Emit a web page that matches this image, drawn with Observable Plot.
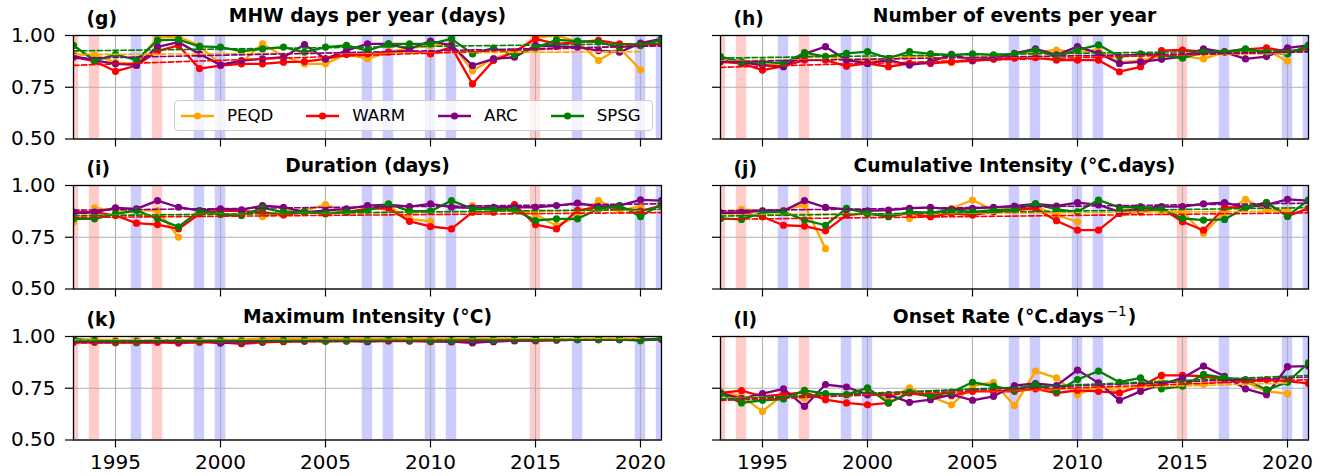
<!DOCTYPE html>
<html>
<head>
<meta charset="utf-8">
<script src="https://cdn.jsdelivr.net/npm/d3@7"></script>
<script src="https://cdn.jsdelivr.net/npm/@observablehq/plot@0.6"></script>
<style>
  body { margin: 0; background: #fff; font-family: "DejaVu Sans", sans-serif; }
  #fig { position: relative; width: 1328px; height: 476px; overflow: hidden; background: #fff; }
  .panel { position: absolute; }
  .legend {
    position: absolute; box-sizing: border-box; display: flex; align-items: center;
    background: rgba(255,255,255,0.8); border: 1px solid #cccccc; border-radius: 4px;
    font-family: "DejaVu Sans", sans-serif; font-size: 16.6px; color: #000; padding-left: 6px;
  }
  .legend .item { display: flex; align-items: center; margin-right: 33px; }
  .legend .item:last-child { margin-right: 0; }
  .legend svg { margin-right: 13px; display: block; }
</style>
</head>
<body>
<div id="fig"></div>
<script>
// ---------- data ----------
const years = [1993,1994,1995,1996,1997,1998,1999,2000,2001,2002,2003,2004,2005,2006,2007,
               2008,2009,2010,2011,2012,2013,2014,2015,2016,2017,2018,2019,2020,2021];
const regions = ["PEQD", "WARM", "ARC", "SPSG"];
const regionColors = ["#FFA500", "#FF0000", "#800080", "#008000"];
const ninoYears = [1993, 1994, 1997, 2015];
const ninaYears = [1996, 1999, 2000, 2007, 2008, 2010, 2011, 2017, 2020, 2021];
const xTickValues = [1995, 2000, 2005, 2010, 2015, 2020];
const yTickValues = [0.5, 0.75, 1.0];

// (g) MHW days per year
const daysPEQD = [0.91,0.905,0.87,0.86,0.99,0.995,0.95,0.86,0.87,0.96,0.90,0.863,0.863,0.91,0.887,0.92,0.94,0.95,0.96,0.83,0.89,0.92,0.99,1.0,0.97,0.879,0.94,0.834];
const daysWARM = [0.895,0.876,0.827,0.855,0.925,0.952,0.84,0.855,0.863,0.863,0.871,0.874,0.887,0.908,0.911,0.92,0.927,0.911,0.944,0.766,0.879,0.92,0.984,0.96,0.968,0.976,0.96,0.955,0.96];
const daysARC  = [0.90,0.88,0.863,0.858,0.945,0.968,0.911,0.858,0.879,0.887,0.895,0.956,0.887,0.927,0.96,0.96,0.935,0.973,0.952,0.855,0.887,0.895,0.952,0.947,0.944,0.927,0.919,0.963,0.984];
const daysSPSG = [0.952,0.879,0.908,0.882,0.976,0.98,0.947,0.944,0.924,0.935,0.944,0.919,0.944,0.952,0.927,0.96,0.96,0.96,0.984,0.911,0.939,0.906,0.94,0.979,0.973,0.968,0.944,0.952,0.979];

// (h) Number of events per year
const eventsPEQD = [0.88,0.875,0.86,0.855,0.90,0.90,0.88,0.88,0.88,0.90,0.90,0.87,0.89,0.90,0.91,0.92,0.93,0.92,0.93,0.87,0.88,0.90,0.90,0.887,0.92,0.92,0.93,0.876];
const eventsWARM = [0.873,0.865,0.833,0.852,0.881,0.881,0.852,0.865,0.849,0.865,0.865,0.873,0.877,0.885,0.89,0.893,0.881,0.881,0.881,0.825,0.849,0.927,0.93,0.922,0.922,0.933,0.94,0.922,0.936];
const eventsARC  = [0.88,0.87,0.857,0.849,0.911,0.946,0.881,0.865,0.881,0.857,0.873,0.909,0.881,0.89,0.914,0.935,0.906,0.946,0.914,0.865,0.873,0.885,0.898,0.936,0.92,0.887,0.898,0.94,0.952];
const eventsSPSG = [0.898,0.873,0.873,0.865,0.917,0.898,0.914,0.922,0.89,0.922,0.911,0.906,0.911,0.906,0.911,0.93,0.898,0.93,0.955,0.898,0.911,0.906,0.89,0.92,0.92,0.936,0.919,0.911,0.952];

// (i) Duration
const durPEQD = [0.823,0.892,0.879,0.88,0.879,0.75,null,null,null,0.85,0.879,0.879,0.908,0.87,0.89,0.90,0.839,0.827,null,0.903,0.89,0.882,0.86,0.806,0.85,0.927,0.879,0.90];
const durWARM = [0.871,0.871,0.855,0.818,0.811,0.79,0.863,0.879,0.876,0.871,0.858,0.871,0.863,0.871,0.887,0.89,0.827,0.802,0.79,0.871,0.871,0.908,0.811,0.79,0.88,0.895,0.892,0.876,0.903];
const durARC  = [0.865,0.87,0.892,0.887,0.927,0.895,0.879,0.887,0.882,0.903,0.895,0.871,0.879,0.887,0.903,0.908,0.898,0.911,0.895,0.892,0.895,0.895,0.895,0.903,0.915,0.898,0.903,0.931,0.927];
const durSPSG = [0.839,0.839,0.863,0.879,0.84,0.80,0.879,0.86,0.855,0.892,0.871,0.871,0.866,0.871,0.879,0.911,0.876,0.876,0.927,0.887,0.887,0.882,0.831,0.839,0.839,0.887,0.903,0.85,0.911];

// (j) Cumulative Intensity
const cumPEQD = [0.86,0.885,0.878,0.88,0.906,0.695,null,null,null,0.841,0.857,0.89,0.93,0.88,0.89,0.898,0.857,0.825,null,0.88,0.89,0.873,0.873,0.768,0.87,0.933,0.881,0.88];
const cumWARM = [0.869,0.869,0.849,0.808,0.804,0.781,0.857,0.865,0.852,0.865,0.849,0.865,0.857,0.873,0.881,0.89,0.83,0.784,0.784,0.865,0.873,0.89,0.825,0.784,0.894,0.894,0.917,0.852,0.89];
const cumARC  = [0.865,0.87,0.878,0.878,0.927,0.894,0.885,0.878,0.881,0.89,0.894,0.885,0.89,0.894,0.901,0.911,0.901,0.917,0.906,0.873,0.89,0.898,0.898,0.911,0.917,0.894,0.906,0.933,0.927];
const cumSPSG = [0.841,0.836,0.869,0.873,0.833,0.808,0.89,0.865,0.849,0.873,0.869,0.881,0.873,0.881,0.885,0.911,0.885,0.873,0.93,0.894,0.898,0.885,0.841,0.833,0.836,0.894,0.917,0.852,0.93];

// (k) Maximum Intensity
const maxPEQD = [0.985,0.985,0.982,0.98,0.975,0.98,0.98,0.982,0.985,0.99,0.99,0.99,0.99,0.99,0.99,0.99,0.99,0.99,0.99,0.99,0.99,0.99,0.978,0.985,0.988,0.99,0.99,0.988];
const maxWARM = [0.972,0.972,0.97,0.97,0.972,0.968,0.972,0.972,0.965,0.972,0.975,0.978,0.978,0.978,0.978,0.978,0.978,0.975,0.975,0.97,0.978,0.98,0.98,0.982,0.985,0.985,0.985,0.985,0.985];
const maxARC  = [0.978,0.978,0.975,0.975,0.978,0.975,0.978,0.968,0.972,0.975,0.978,0.978,0.98,0.98,0.975,0.982,0.98,0.978,0.975,0.97,0.975,0.98,0.982,0.985,0.985,0.985,0.985,0.985,0.99];
const maxSPSG = [0.988,0.98,0.975,0.975,0.982,0.982,0.978,0.98,0.978,0.978,0.98,0.982,0.978,0.98,0.98,0.985,0.982,0.978,0.98,0.985,0.982,0.985,0.985,0.985,0.985,0.985,0.985,0.98,0.99];

// (l) Onset Rate
const onsetPEQD = [0.735,0.711,0.638,0.72,0.703,0.72,0.72,0.73,0.70,0.752,0.711,0.67,0.76,0.779,0.666,0.833,0.80,0.719,0.76,0.731,0.76,0.78,0.78,0.768,0.79,0.78,0.735,0.724];
const onsetWARM = [0.727,0.739,0.711,0.72,0.73,0.695,0.679,0.67,0.679,0.727,0.711,0.714,0.735,0.735,0.735,0.747,0.727,0.74,0.735,0.727,0.76,0.812,0.812,0.808,0.792,0.784,0.792,0.784,0.773];
const onsetARC  = [0.727,0.70,0.724,0.747,0.662,0.768,0.756,0.719,0.719,0.682,0.695,0.719,0.692,0.711,0.763,0.773,0.763,0.838,0.776,0.692,0.735,0.768,0.80,0.857,0.808,0.747,0.719,0.854,0.857];
const onsetSPSG = [0.724,0.679,0.692,0.698,0.74,0.724,0.719,0.752,0.679,0.731,0.714,0.731,0.779,0.76,0.74,0.768,0.735,0.792,0.833,0.779,0.80,0.747,0.76,0.817,0.80,0.792,0.743,0.779,0.873];

const panels = [
  {label: "(g)", title: "MHW days per year (days)", series: [daysPEQD, daysWARM, daysARC, daysSPSG], row: 0, col: 0},
  {label: "(h)", title: "Number of events per year", series: [eventsPEQD, eventsWARM, eventsARC, eventsSPSG], row: 0, col: 1},
  {label: "(i)", title: "Duration (days)", series: [durPEQD, durWARM, durARC, durSPSG], row: 1, col: 0},
  {label: "(j)", title: "Cumulative Intensity (°C.days)", series: [cumPEQD, cumWARM, cumARC, cumSPSG], row: 1, col: 1},
  {label: "(k)", title: "Maximum Intensity (°C)", series: [maxPEQD, maxWARM, maxARC, maxSPSG], row: 2, col: 0},
  {label: "(l)", title: "Onset Rate (°C.days\u2212\u00B9)", sup: ["Onset Rate (°C.days", "\u2212", "1", ")"], series: [onsetPEQD, onsetWARM, onsetARC, onsetSPSG], row: 2, col: 1}
];

// ---------- layout ----------
const rowTop = [0, 150, 301];
const rowHeight = [150, 151, 175];
const colLeft = [0, 670];
const colWidth = [670, 658];
const colMarginLeft = [73, 50];
const colMarginRight = [9, 20];
const MT = 35, PLOT_H = 103.5;

const fig = document.getElementById("fig");

function makePanel(p) {
  const rows = [];
  p.series.forEach((arr, i) => {
    arr.forEach((v, j) => rows.push({year: years[j], region: regions[i], value: v == null ? NaN : v}));
  });
  const valid = rows.filter(d => !isNaN(d.value));
  const showX = p.row === 2;
  const showY = p.col === 0;
  const height = rowHeight[p.row];

  const marks = [
    Plot.rect(ninoYears, {x1: d => d - 0.25, x2: d => d + 0.25, fill: "#ff0000", fillOpacity: 0.2, clip: true}),
    Plot.rect(ninaYears, {x1: d => d - 0.25, x2: d => d + 0.25, fill: "#0000ff", fillOpacity: 0.2, clip: true}),
    Plot.ruleX(xTickValues, {stroke: "#b0b0b0", strokeWidth: 1.1}),
    Plot.ruleY(yTickValues, {stroke: "#b0b0b0", strokeWidth: 1.1}),
    Plot.axisX({ticks: xTickValues, tickSize: 8, tickPadding: 7, fontSize: 20, label: null,
                tickFormat: showX ? (d => String(d)) : (() => ""), stroke: "black", strokeWidth: 1.2}),
    Plot.axisY({ticks: yTickValues, tickSize: 8, tickPadding: 10, fontSize: 20, label: null,
                tickFormat: showY ? d3.format(".2f") : (() => ""), stroke: "black", strokeWidth: 1.2})
  ];
  regions.forEach((r, i) => {
    const sub = rows.filter(d => d.region === r);
    const subValid = valid.filter(d => d.region === r);
    marks.push(Plot.line(sub, {x: "year", y: "value", stroke: regionColors[i], strokeWidth: 2.3, clip: true}));
    marks.push(Plot.dot(subValid, {x: "year", y: "value", fill: regionColors[i], r: 3.6, clip: true}));
  });
  regions.forEach((r, i) => {
    const subValid = valid.filter(d => d.region === r);
    marks.push(Plot.linearRegressionY(subValid, {x: "year", y: "value", stroke: regionColors[i],
      strokeWidth: 1.6, strokeDasharray: "5.5,2.4", ci: 0, clip: true}));
  });
  marks.push(Plot.frame({stroke: "black", strokeWidth: 1.3}));
  marks.push(Plot.text([p.title], {text: d => d, frameAnchor: "top", dy: -19, lineAnchor: "middle",
    fontWeight: "bold", fontSize: 18.7, fill: "black", className: "ptitle"}));
  marks.push(Plot.text([p.label], {text: d => d, frameAnchor: "top-left", dx: 13, dy: -16, lineAnchor: "middle",
    textAnchor: "start", fontWeight: "bold", fontSize: 18.7, fill: "black"}));

  const svg = Plot.plot({
    width: colWidth[p.col],
    height: height,
    marginLeft: colMarginLeft[p.col],
    marginRight: colMarginRight[p.col],
    marginTop: MT,
    marginBottom: height - MT - PLOT_H,
    x: {domain: [1993, 2021], inset: 0},
    y: {domain: [0.5, 1.0], inset: 0},
    style: {fontFamily: "DejaVu Sans", background: "white", color: "black", overflow: "visible"},
    marks
  });

  // superscript rendering for the onset-rate title (matplotlib mathtext style)
  if (p.sup) {
    const t = svg.querySelector("g.ptitle text") || Array.from(svg.querySelectorAll("text")).find(e => e.textContent === p.title);
    if (t) {
      t.textContent = "";
      const ns = "http://www.w3.org/2000/svg";
      const a = document.createElementNS(ns, "tspan"); a.textContent = p.sup[0];
      const b = document.createElementNS(ns, "tspan"); b.textContent = p.sup[1] + p.sup[2];
      b.setAttribute("dy", "-7"); b.setAttribute("font-size", "13.5"); b.setAttribute("font-weight", "normal"); b.setAttribute("dx", "3");
      const c = document.createElementNS(ns, "tspan"); c.textContent = p.sup[3]; c.setAttribute("dy", "7"); c.setAttribute("dx", "1");
      t.appendChild(a); t.appendChild(b); t.appendChild(c);
    }
  }

  const wrap = document.createElement("div");
  wrap.className = "panel";
  wrap.style.left = colLeft[p.col] + "px";
  wrap.style.top = rowTop[p.row] + "px";
  wrap.appendChild(svg);
  fig.appendChild(wrap);
}

panels.forEach(makePanel);

// ---------- legend (inside panel g) ----------
const legend = document.createElement("div");
legend.className = "legend";
legend.style.left = "174px";
legend.style.top = "100px";
legend.style.width = "479px";
legend.style.height = "31px";
regions.forEach((r, i) => {
  const item = document.createElement("div");
  item.className = "item";
  const ns = "http://www.w3.org/2000/svg";
  const s = document.createElementNS(ns, "svg");
  s.setAttribute("width", "33"); s.setAttribute("height", "12");
  const ln = document.createElementNS(ns, "line");
  ln.setAttribute("x1", "0"); ln.setAttribute("x2", "33"); ln.setAttribute("y1", "6"); ln.setAttribute("y2", "6");
  ln.setAttribute("stroke", regionColors[i]); ln.setAttribute("stroke-width", "2.3");
  const c = document.createElementNS(ns, "circle");
  c.setAttribute("cx", "16.5"); c.setAttribute("cy", "6"); c.setAttribute("r", "3.6"); c.setAttribute("fill", regionColors[i]);
  s.appendChild(ln); s.appendChild(c);
  const t = document.createElement("span");
  t.textContent = r;
  item.appendChild(s); item.appendChild(t);
  legend.appendChild(item);
});
fig.appendChild(legend);
</script>
</body>
</html>
